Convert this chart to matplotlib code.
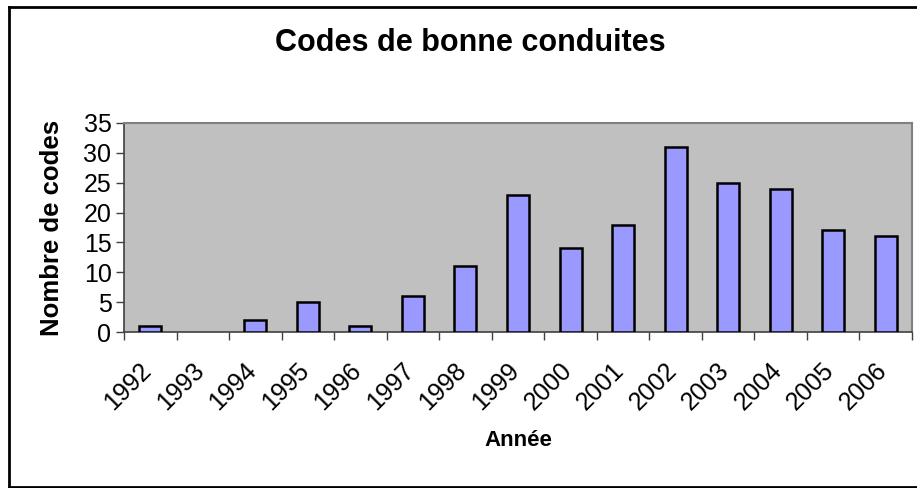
import matplotlib.pyplot as plt
import matplotlib.transforms as mtransforms
from matplotlib.lines import Line2D
import numpy as np

plt.rcParams['font.family'] = ['Liberation Sans', 'DejaVu Sans']

years = ['1992', '1993', '1994', '1995', '1996', '1997', '1998', '1999',
         '2000', '2001', '2002', '2003', '2004', '2005', '2006']
codes = [1, 0, 2, 5, 1, 6, 11, 23, 14, 18, 31, 25, 24, 17, 16]

fig = plt.figure(figsize=(9.17, 4.88), dpi=100)
ax = fig.add_axes([124/917, 1 - 332/488, (912-124)/917, (332-123)/488])

x = np.arange(len(years))
edges = ['black' if v > 0 else 'none' for v in codes]
ax.bar(x, codes, width=0.42, color='#9999FF', edgecolor=edges, linewidth=1.8, zorder=3)
ax.set_facecolor('#C0C0C0')
ax.set_xlim(-0.5, len(years) - 0.5)
ax.set_ylim(0, 35)
ax.set_yticks(range(0, 36, 5))
ax.tick_params(axis='y', labelsize=18, length=6, width=1, color='#404040', pad=3)

# ticks between categories, labels at centres
ax.set_xticks(np.arange(-0.5, len(years), 1))
ax.set_xticklabels([])
ax.set_xticks(x, minor=True)
ax.set_xticklabels(years, minor=True, rotation=45, ha='right', rotation_mode='anchor', fontsize=18)
ax.tick_params(axis='x', which='major', length=6, width=1, color='#404040')
ax.tick_params(axis='x', which='minor', length=0, pad=19)
shift = mtransforms.ScaledTranslation(-11/100, 0, fig.dpi_scale_trans)
for lab in ax.get_xticklabels(minor=True):
    lab.set_transform(lab.get_transform() + shift)

for s in ['top', 'right']:
    ax.spines[s].set_color('#808080')
    ax.spines[s].set_linewidth(1.5)
for s in ['left', 'bottom']:
    ax.spines[s].set_color('#404040')
    ax.spines[s].set_linewidth(1.2)

ax.set_ylabel('Nombre de codes', fontsize=18.5, fontweight='bold', labelpad=14)
ax.set_xlabel('Année', fontsize=16, fontweight='bold', labelpad=11)
fig.text(470/917, 1 - 43/488, 'Codes de bonne conduites', fontsize=22, fontweight='bold',
         ha='center', va='center')

# chart border (right edge cut off in the original)
lw = 2
fig.add_artist(Line2D([9/917, 9/917], [1 - 487/488, 1 - 7/488], transform=fig.transFigure, color='black', lw=lw))
fig.add_artist(Line2D([9/917, 1.0], [1 - 7/488, 1 - 7/488], transform=fig.transFigure, color='black', lw=lw))
fig.add_artist(Line2D([9/917, 1.0], [1 - 487/488, 1 - 487/488], transform=fig.transFigure, color='black', lw=lw))

fig.savefig('out.png', dpi=100)
